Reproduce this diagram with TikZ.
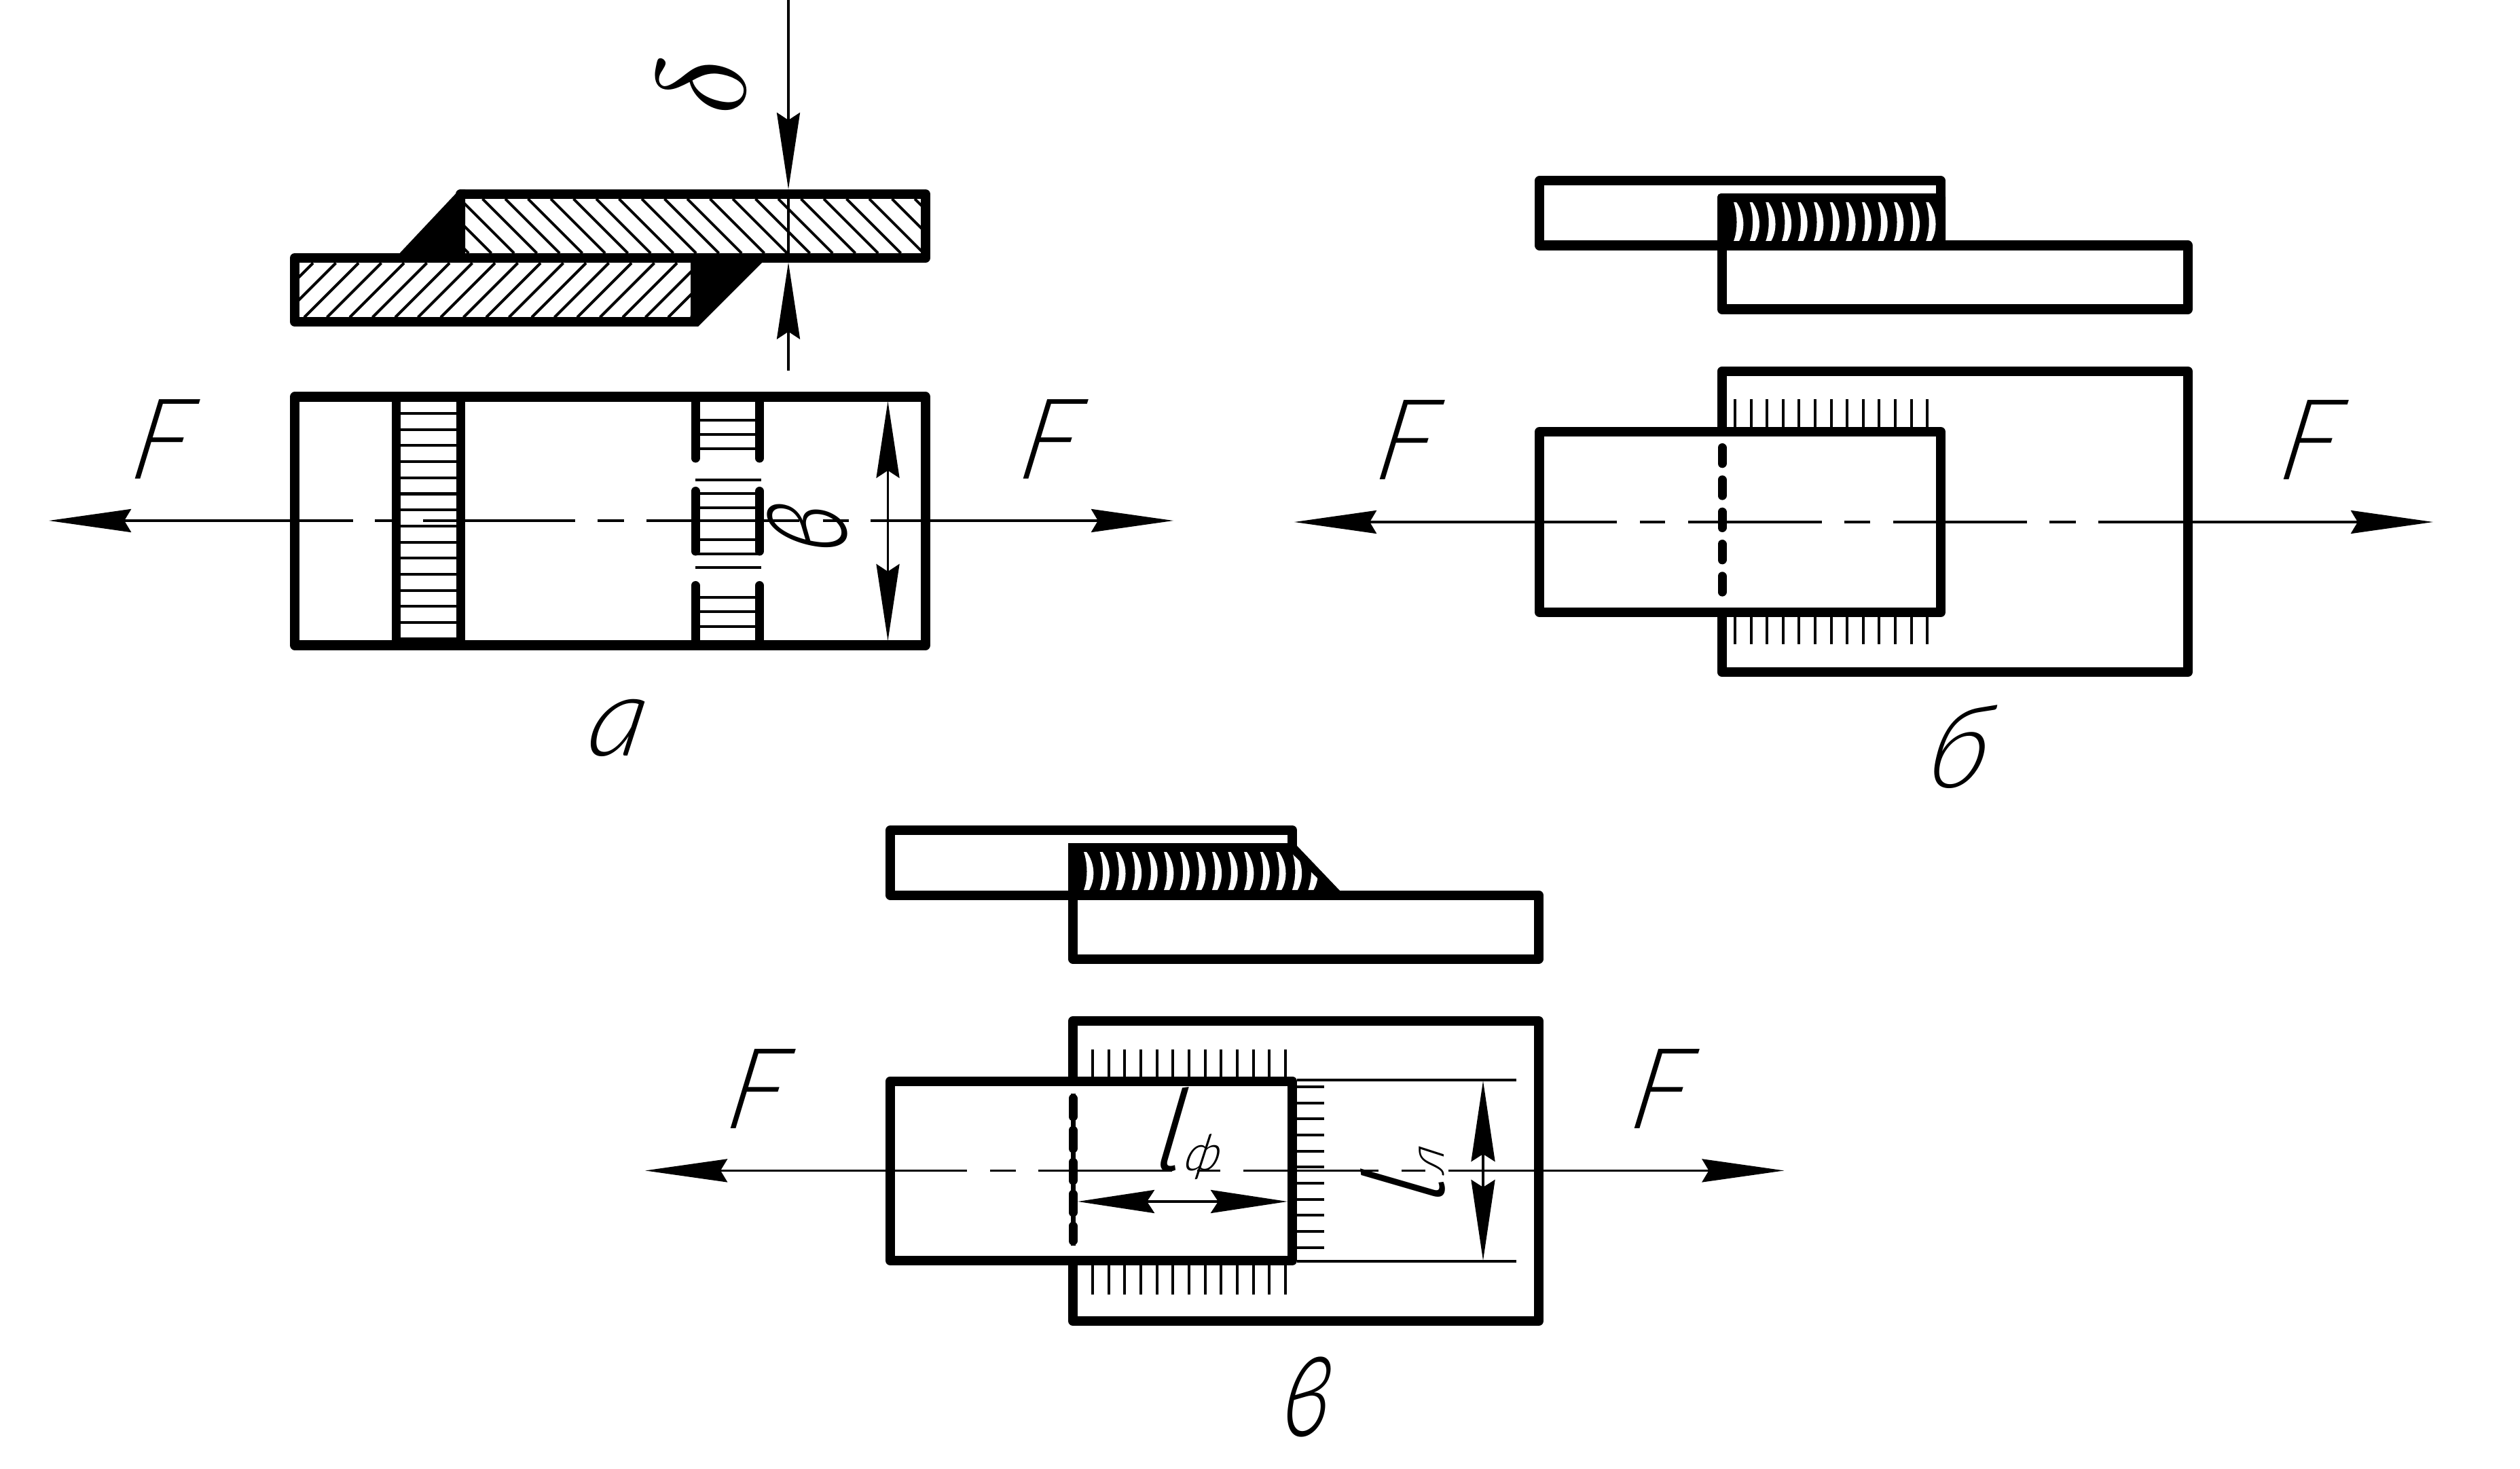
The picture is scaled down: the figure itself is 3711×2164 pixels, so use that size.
\documentclass[tikz,border=0pt]{standalone}
\usepackage{fontspec}
\usepackage{tikz}
\usetikzlibrary{arrows.meta,calc}
\newfontfamily\gost{Lato}[UprightFont={* Light Italic},FakeSlant=0.2]
\newfontfamily\gostl{Fira Sans}[UprightFont={* Light Italic},FakeSlant=0.15]

\tikzset{
    plate/.style={line width=.14cm, line join=round},
    thinline/.style={line width=.035cm},
    tickline/.style={line width=.04cm},
    weldedge/.style={line width=.13cm, line cap=round},
    hiddenline/.style={line width=.13cm, line cap=round, dash pattern=on .233cm off .24cm},
    forcetip/.tip={Stealth[length=1.21cm, width=.34cm, inset=.1cm]},
    dimtip/.tip={Stealth[length=1.13cm, width=.34cm, inset=.11cm]},
    lettering/.style={inner sep=0pt, font=\gost\fontsize{47}{50}\selectfont},
}
% white bead between two passes of a weld
\newcommand{\beadgap}[3]{
    \fill[white] ({#1+4},#2) .. controls ({#1+17},{#2+17}) and ({#1+17},{#3-15}) .. ({#1+8},#3)
        -- (#1,#3) .. controls ({#1+6},{#3-15}) and ({#1+6},{#2+17}) .. (#1,#2) -- cycle;
}
\newcommand{\sublabel}[2]{{\gostl #1}{\fontsize{21}{22}\selectfont #2}}
\newcommand{\forcelabel}{\scalebox{.94}[1]{F}}

\begin{document}
\begin{tikzpicture}[x=.01cm, y=-.01cm]
\useasboundingbox (0,0) rectangle (3711,2164);

% --- View a: section ---
\begin{scope}
    \clip (685,293) rectangle (1357,373);
    \foreach \i in {-3,...,20} {
        \draw[tickline] ({710.6+33.5*\i},293) -- ({790.6+33.5*\i},373);
    }
\end{scope}
\begin{scope}
    \clip (440,387) rectangle (1017,467.5);
    \foreach \i in {-3,...,18} {
        \draw[tickline] ({448+33.5*\i},467.5) -- ({528+33.5*\i},387.5);
    }
\end{scope}
\draw[plate] (678,286) rectangle (1363,380);
\draw[plate] (434,380) rectangle (1024,474);
\fill (582,380) -- (677,279) -- (685,279) -- (685,380) -- cycle;
\fill (1122.6,386.5) -- (1028,481) -- (1017,481) -- (1017,380) -- (1122.6,380) -- cycle;

% Thickness dimension
\coordinate (dtop) at (1161,0);
\coordinate (dupper) at (1161,279);
\coordinate (dlower) at (1161,386.5);
\coordinate (dbottom) at (1161,546);
\draw[thinline, -{dimtip}] (dtop) -- (dupper);
\draw[thinline, -{dimtip}] (dbottom) -- (dlower);
\draw[thinline] (dupper) -- (dlower);
\node[inner sep=0pt, rotate=90] (deltalabel) at (1033,126) {\scalebox{5.3}{$\delta$}};

% --- View a: plan ---
\draw[plate] (434,584.5) rectangle (1363,950.5);
\draw[line width=.13cm] (583.5,584.5) -- (583.5,950.5);
\draw[line width=.13cm] (678,584.5) -- (678,950.5);
\foreach \i in {0,...,14} {
    \draw[tickline] (590,{609+23.7*\i}) -- (672,{609+23.7*\i});
}
\foreach \x in {1024,1118.5} {
    \draw[weldedge] (\x,584.5) -- (\x,675);
    \draw[weldedge] (\x,723.5) -- (\x,812);
    \draw[weldedge] (\x,862.5) -- (\x,950.5);
}
\foreach \y in {619,640,661,727,747.5,795,816,880,901,923} {
    \draw[tickline] (1024,\y) -- (1118,\y);
}
\draw[tickline] (1024,706.6) -- (1121,706.6);
\draw[tickline] (1024,836) -- (1121,836);

\coordinate (widthtop) at (1307.5,591);
\coordinate (widthbottom) at (1307.5,944);
\draw[thinline, {dimtip}-{dimtip}] (widthtop) -- (widthbottom);
\node[lettering, rotate=90] (widthlabel) at (1189,782) {\scalebox{.9}[1.4]{в}};

% Axis and forces
\coordinate (aleft) at (72,767);
\coordinate (aright) at (1728,767);
\draw[thinline, {forcetip}-{forcetip}, dash pattern=on 3.38cm off .32cm on .37cm off .34cm on 2.24cm off .33cm on .39cm off .33cm on 2.25cm off .34cm on .38cm off .32cm on 10cm] (aleft) -- (aright);
\node[lettering] (fa1) at (231,647) {\forcelabel};
\node[lettering] (fa2) at (1539,647) {\forcelabel};
\node[lettering] (captiona) at (902,1072) {а};

% --- View b: section ---
\draw[plate] (2267,266.5) rectangle (2858,361.5);
\draw[plate] (2535.5,361.5) rectangle (3222,455.5);
\fill[rounded corners=.05cm] (2529,368) -- (2529,285) -- (2865,285) -- (2865,368) -- cycle;
\foreach \i in {0,...,12} {
    \pgfmathsetmacro{\beadx}{2553+23.6*\i}
    \beadgap{\beadx}{298}{355}
}

% --- View b: plan ---
\draw[plate] (2535.5,547) rectangle (3222,990);
\draw[plate, fill=white] (2267,636) rectangle (2858,902);
\foreach \i in {0,...,12} {
    \draw[tickline] ({2555+23.6*\i},588) -- ({2555+23.6*\i},629);
    \draw[tickline] ({2555+23.6*\i},909) -- ({2555+23.6*\i},949);
}
\draw[hiddenline] (2536,659.5) -- (2536,872.5);

\coordinate (bleft) at (1906,769);
\coordinate (bright) at (3583,769);
\draw[thinline, {forcetip}-{forcetip}, dash pattern=on 3.65cm off .34cm on .37cm off .34cm on 1.97cm off .33cm on .38cm off .34cm on 1.96cm off .33cm on .39cm off .33cm on 10cm] (bleft) -- (bright);
\node[lettering] (fb1) at (2064,648) {\forcelabel};
\node[lettering] (fb2) at (3395,648) {\forcelabel};
\node[lettering] (captionb) at (2876,1100) {б};

% --- View c: section ---
\draw[plate] (1311,1223) rectangle (1903,1318.5);
\draw[plate] (1580,1318.5) rectangle (2266,1412.5);
\fill (1573,1325) -- (1573,1242) -- (1904,1242) -- (1910,1246) -- (1973,1312) -- (1973,1325) -- cycle;
\begin{scope}
    \clip (1590,1255) -- (1900,1255) -- (1958,1311) -- (1590,1311) -- cycle;
    \foreach \i in {0,...,14} {
        \pgfmathsetmacro{\beadx}{1596+23.6*\i}
        \beadgap{\beadx}{1255}{1311}
    }
\end{scope}

% --- View c: plan ---
\draw[plate] (1580,1504) rectangle (2266,1946);
\draw[plate, fill=white] (1311,1592.5) rectangle (1903,1857);
\foreach \i in {0,...,12} {
    \draw[tickline] ({1609+23.65*\i},1546) -- ({1609+23.65*\i},1586);
    \draw[tickline] ({1609+23.65*\i},1864) -- ({1609+23.65*\i},1907);
}
\foreach \i in {0,...,10} {
    \draw[tickline] (1910,{1601+23.65*\i}) -- (1950,{1601+23.65*\i});
}
\draw[line width=.07cm] (1580,1611) -- (1580,1835);
\draw[weldedge, dash pattern=on .27cm off .2cm] (1580,1618) -- (1580,1828);

% Weld lengths
\coordinate (exttop) at (1910,1591);
\coordinate (extbottom) at (1910,1858);
\draw[tickline] (exttop) -- ++(323,0);
\draw[tickline] (extbottom) -- ++(323,0);
\coordinate (sidetop) at (2184,1592);
\coordinate (sidebottom) at (2184,1857);
\draw[thinline, {Stealth[length=1.19cm, width=.35cm, inset=.11cm]}-{Stealth[length=1.19cm, width=.35cm, inset=.11cm]}] (sidetop) -- (sidebottom);
\coordinate (frontleft) at (1587,1770);
\coordinate (frontright) at (1896,1770);
\draw[thinline, {dimtip}-{dimtip}] (frontleft) -- (frontright);
\node[lettering] (frontlabel) at (1745,1670) {\sublabel{l}{ф}};
\node[lettering, rotate=90] (sidelabel) at (2066,1735) {\sublabel{l}{л}};

\coordinate (cleft) at (950,1724.4);
\coordinate (cright) at (2627.5,1724.4);
\draw[thinline, {forcetip}-{forcetip}, dash pattern=on 3.64cm off .34cm on .38cm off .33cm on 1.97cm off .37cm on .34cm off .34cm on 1.99cm off .33cm on .35cm off .34cm on 10cm] (cleft) -- (cright);
\node[lettering] (fc1) at (1108,1604) {\forcelabel};
\node[lettering] (fc2) at (2439,1604) {\forcelabel};
\node[lettering] (captionc) at (1921,2058) {\scalebox{.9}[1.4]{в}};

\end{tikzpicture}
\end{document}
